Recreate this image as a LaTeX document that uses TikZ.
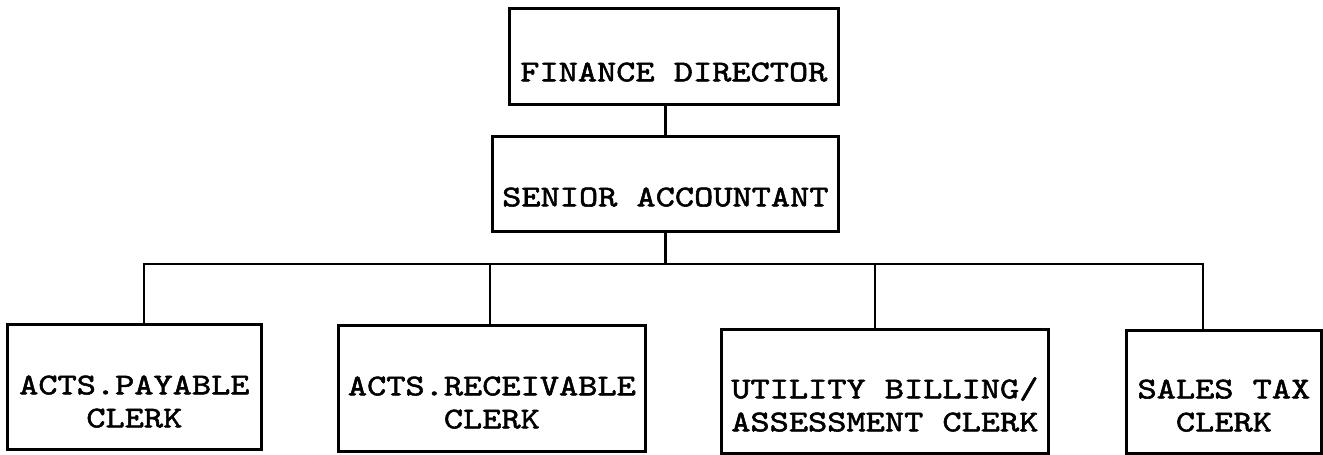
\documentclass[tikz,border=0pt]{standalone}
\usepackage{fontspec}
\setmonofont{lmmono10-regular.otf}[FakeStretch=1.21, FakeBold=1.8]
\usepackage{tikz}
\usetikzlibrary{positioning}

\begin{document}
\begin{tikzpicture}[x=0.02cm, y=-0.02cm]
        \tikzstyle{post}=[draw, line width=1.6pt, inner sep=0pt,
            anchor=north west, align=center,
            font=\ttfamily\fontsize{17.2}{18.8}\selectfont]
        \tikzstyle{link}=[line width=1.6pt]
        \useasboundingbox (0,0) rectangle (1323,454);

        % director and accountant
        \node[post, minimum width=187.2pt, text height=41.5pt, text depth=13.1pt]
            (fd) at (508,7) {FINANCE DIRECTOR};
        \node[post, minimum width=196.9pt, text height=39.8pt, text depth=14.2pt]
            (sa) at (491,135) {SENIOR ACCOUNTANT};

        % clerks (text height is taken from the last line)
        \node[post, minimum width=144.5pt, text height=58.6pt, text depth=12.5pt]
            (ap) at (6,323) {ACTS.PAYABLE\\CLERK};
        \node[post, minimum width=174.7pt, text height=58.6pt, text depth=13.1pt]
            (ar) at (337,324) {ACTS.RECEIVABLE\\CLERK};
        \node[post, minimum width=186.1pt, text height=58pt, text depth=12.5pt]
            (ub) at (720,328) {UTILITY BILLING/\\ASSESSMENT CLERK};
        \node[post, minimum width=111pt, text height=57.5pt, text depth=12.5pt]
            (st) at (1125,329) {SALES TAX\\CLERK};

        % where the drops leave the bus
        \coordinate (d1) at (144,264);
        \coordinate (d2) at (490,264);
        \coordinate (d3) at (875,264);
        \coordinate (d4) at (1203,264);

        \draw[link] (sa.north) -- (sa.north |- fd.south);
        \draw[link] (sa.south) -- (sa.south |- d1);
        \draw[link] (ap.north -| d1) -- (d1) -- (d4) -- (st.north -| d4);
        \draw[link] (d2) -- (ar.north -| d2);
        \draw[link] (d3) -- (ub.north -| d3);
\end{tikzpicture}
\end{document}
